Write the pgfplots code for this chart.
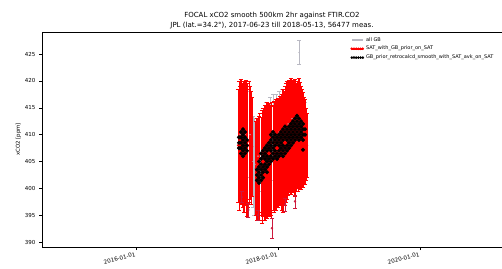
\documentclass[border=0pt]{standalone}
\usepackage{pgfplots}
\pgfplotsset{compat=1.18}
\usepackage{pgfplotstable}
\usepackage{fontspec}
\setmainfont{DejaVu Sans}
\definecolor{gbgray}{RGB}{185,185,195}
\definecolor{crim}{RGB}{205,25,60}

\pgfplotstableread{
x y e
2017.465 410 8
2017.535 410 8
2017.606 410 8
2017.648 405 8.5
2017.662 404 9
2017.676 404.5 8
2017.718 406 7
2017.775 407 7.5
2017.831 408 8
2017.887 409 8
2017.930 409.5 8
2017.972 410 7.5
2018.014 410.5 7.5
2018.056 411 7.5
2018.099 411 6.5
2018.141 412 6
2018.197 413 6
2018.254 413 6
2018.296 425.3 2.2
2018.338 412 5
2018.380 411 5
}\gbdata

\pgfplotstableread{
x y e
2017.437 408.0 10.5
2017.451 408.0 12.0
2017.465 408.25 10.75
2017.479 408.65 11.65
2017.493 409.0 10.5
2017.507 407.65 11.15
2017.521 407.75 12.25
2017.535 408.5 10.7
2017.549 408.5 11.7
2017.563 406.65 11.85
2017.577 408.0 11.5
2017.592 408.75 11.25
2017.606 408.5 10.5
2017.620 407.5 10.5
2017.634 407.75 9.25
2017.690 403.75 8.75
2017.704 403.5 9.5
2017.718 403.65 9.15
2017.732 404.5 9.0
2017.746 404.0 10.0
2017.761 404.1 9.1
2017.775 404.0 10.5
2017.789 404.9 10.1
2017.803 404.85 9.35
2017.817 404.75 10.75
2017.831 405.1 9.9
2017.845 405.25 10.75
2017.859 405.6 9.6
2017.873 405.3 10.5
2017.887 405.15 9.65
2017.901 405.25 10.25
2017.915 405.25 10.75
2017.930 405.6 9.6
2017.944 405.85 10.35
2017.958 406.0 9.5
2017.972 406.25 10.25
2017.986 406.4 9.4
2018.000 406.65 10.15
2018.014 406.85 9.35
2018.028 407.0 10.2
2018.042 407.0 9.5
2018.056 406.75 10.75
2018.070 407.0 11.5
2018.085 407.5 10.5
2018.099 407.9 11.1
2018.113 408.5 11.0
2018.127 409.0 11.0
2018.141 409.0 10.2
2018.155 409.7 10.5
2018.169 409.65 10.15
2018.183 409.75 10.75
2018.197 409.65 9.85
2018.211 409.75 10.45
2018.225 409.9 9.9
2018.239 409.4 10.9
2018.254 409.5 10.0
2018.268 410.1 9.9
2018.282 409.35 9.85
2018.296 410.25 10.25
2018.310 410.05 9.75
2018.324 409.4 9.6
2018.338 409.5 9.0
2018.352 409.0 8.8
2018.366 409.0 8.0
2018.380 408.65 7.85
2018.394 408.25 6.75
2018.408 408.0 6.0
}\satdata

\pgfplotstableread{
x y e
2017.489 398.4 1.0
2017.582 396.0 1.3
2017.718 395.0 1.0
2017.915 392.6 1.9
2018.099 397.0 1.2
2018.239 397.6 1.2
}\satlow

\pgfplotstableread{
x y
2017.451 407.5
2017.451 408.5
2017.451 409.5
2017.479 406.5
2017.479 407.5
2017.479 408.5
2017.479 409.5
2017.479 410.5
2017.507 406
2017.507 407
2017.507 408
2017.507 409
2017.507 410
2017.507 411
2017.535 406.5
2017.535 407.5
2017.535 408.5
2017.535 409.5
2017.535 410.5
2017.563 407
2017.563 408
2017.563 409
2017.704 401.5
2017.704 402.5
2017.704 403.5
2017.732 401
2017.732 402
2017.732 403
2017.732 404
2017.732 405
2017.761 401.5
2017.761 402.5
2017.761 403.5
2017.761 404.5
2017.761 405.5
2017.761 406.5
2017.789 402
2017.789 403
2017.789 404
2017.789 406
2017.789 407
2017.817 403.5
2017.817 404.5
2017.817 405.5
2017.817 406.5
2017.817 407.5
2017.845 403
2017.845 404
2017.845 405
2017.845 406
2017.845 407
2017.845 408
2017.873 404.5
2017.873 405.5
2017.873 407.5
2017.873 408.5
2017.901 405
2017.901 406
2017.901 407
2017.901 408
2017.901 409
2017.901 410
2017.930 405.5
2017.930 406.5
2017.930 407.5
2017.930 408.5
2017.930 409.5
2017.930 410.5
2017.958 406
2017.958 407
2017.958 408
2017.958 409
2017.958 410
2017.986 405.5
2017.986 406.5
2017.986 408.5
2017.986 409.5
2018.014 406
2018.014 407
2018.014 408
2018.014 409
2018.014 410
2018.042 406.5
2018.042 407.5
2018.042 408.5
2018.042 409.5
2018.042 410.5
2018.070 406
2018.070 407
2018.070 408
2018.070 409
2018.070 410
2018.070 411
2018.099 406.5
2018.099 407.5
2018.099 409.5
2018.099 410.5
2018.099 411.5
2018.127 407
2018.127 408
2018.127 409
2018.127 410
2018.127 411
2018.155 407.5
2018.155 408.5
2018.155 409.5
2018.155 410.5
2018.155 411.5
2018.183 408
2018.183 409
2018.183 410
2018.183 411
2018.183 412
2018.211 408.5
2018.211 409.5
2018.211 410.5
2018.211 411.5
2018.211 412.5
2018.239 409
2018.239 410
2018.239 411
2018.239 412
2018.239 413
2018.268 409.5
2018.268 410.5
2018.268 411.5
2018.268 412.5
2018.268 413.5
2018.296 409
2018.296 410
2018.296 411
2018.296 412
2018.296 413
2018.324 409.5
2018.324 410.5
2018.324 411.5
2018.324 412.5
2018.352 409
2018.352 410
2018.352 411
2018.352 412
2018.352 407.2
2018.380 410
2018.380 411
}\gbsmooth

\begin{document}
\begin{tikzpicture}
\begin{axis}[
  at={(0,0)}, anchor=south west,
  scale only axis, width=460pt, height=215pt,
  xmin=2014.676, xmax=2021.155,
  ymin=389.1, ymax=429.1,
  axis line style={line width=0.6pt},
  tick align=outside, xtick pos=bottom, ytick pos=left,
  major tick length=3pt,
  tick style={line width=0.5pt, black},
  xtick={2016,2018,2020},
  xticklabels={2016-01-01,2018-01-01,2020-01-01},
  ytick={390,395,400,405,410,415,420,425},
  /pgf/number format/assume math mode=true,
  yticklabel style={font=\fontsize{5.5}{6}\selectfont},
  xticklabel style={font=\fontsize{5.6}{6}\selectfont, rotate=15, anchor=north east, inner sep=1.5pt},
  ylabel={xCO2 [ppm]},
  ylabel shift=-3pt,
  ylabel style={font=\fontsize{5.4}{6}\selectfont},
  title={FOCAL xCO2 smooth 500km 2hr against FTIR.CO2\\JPL (lat.=34.2°), 2017-06-23 till 2018-05-13, 56477 meas.},
  every axis title/.style={at={(0.5,1)}, anchor=south, font=\fontsize{7}{10}\selectfont, align=center},
  legend style={at={(0.668,0.99)}, anchor=north west, draw=none, fill=none,
    font=\fontsize{5.0}{6.5}\selectfont, row sep=-0.5pt, inner sep=1pt},
  legend cell align=left,
]
\addplot[only marks, mark=*, mark size=0.4pt, color=gbgray,
  legend image code/.code={\draw[gbgray, line width=1.2pt] (0pt,0pt) -- (11pt,0pt);},
  error bars/.cd, y dir=both, y explicit,
  error bar style={line width=0.7pt, gbgray},
  error mark options={rotate=90, mark size=2pt, line width=0.5pt, gbgray}]
  table[x=x, y=y, y error=e] {\gbdata};
\addlegendentry{all GB}
\addplot[only marks, mark=*, mark size=1pt, color=red,
  legend image code/.code={\draw[red, line width=1.6pt] (0pt,0pt) -- (11pt,0pt);
     \foreach \k in {0,2.2,4.4,6.6,8.8,11}{\fill[red] (\k pt,0pt) circle (1.1pt);}},
  error bars/.cd, y dir=both, y explicit,
  error bar style={line width=1.05pt, red},
  error mark options={rotate=90, mark size=2.2pt, line width=0.5pt, red}]
  table[x=x, y=y, y error=e] {\satdata};
\addlegendentry{SAT\_with\_GB\_prior\_on\_SAT}
\addplot[only marks, mark=*, mark size=1pt, color=crim, forget plot,
  error bars/.cd, y dir=both, y explicit,
  error bar style={line width=0.7pt, crim},
  error mark options={rotate=90, mark size=2pt, line width=0.5pt, crim}]
  table[x=x, y=y, y error=e] {\satlow};
\addplot[only marks, mark=*, mark size=1.9pt, color=black,
  legend image code/.code={\draw[black, line width=1.6pt] (0pt,0pt) -- (11pt,0pt);
     \foreach \k in {0,2.2,4.4,6.6,8.8,11}{\fill[black] (\k pt,0pt) circle (1.1pt);}}]
  table[x=x, y=y] {\gbsmooth};
\addlegendentry{GB\_prior\_retrocalcd\_smooth\_with\_SAT\_avk\_on\_SAT}
\end{axis}
\pgfresetboundingbox
\path[use as bounding box] (-42pt,-21pt) rectangle (460pt,247pt);
\end{tikzpicture}
\end{document}
